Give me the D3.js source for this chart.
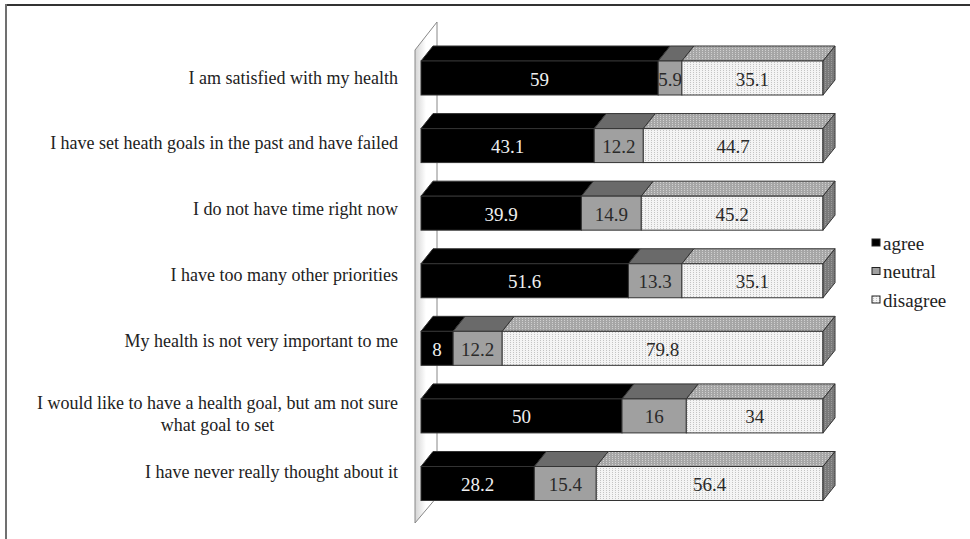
<!DOCTYPE html>
<html>
<head>
<meta charset="utf-8">
<script src="https://cdn.jsdelivr.net/npm/d3@7"></script>
<style>
  html, body { margin: 0; padding: 0; background: #fff; }
</style>
</head>
<body>
<script>
// survey answers, percent
var categories = [
  ["I am satisfied with my health"],
  ["I have set heath goals in the past and have failed"],
  ["I do not have time right now"],
  ["I have too many other priorities"],
  ["My health is not very important to me"],
  ["I would like to have a health goal, but am not sure", "what goal to set"],
  ["I have never really thought about it"]
];
var seriesNames = ["agree", "neutral", "disagree"];
var agree = [59, 43.1, 39.9, 51.6, 8, 50, 28.2];
var neutral = [5.9, 12.2, 14.9, 13.3, 12.2, 16, 15.4];
var disagree = [35.1, 44.7, 45.2, 35.1, 79.8, 34, 56.4];
var xTicks = [0, 100];

var width = 970, height = 539;
var dx = 12, dy = 15, barH = 34;
var serif = "'Liberation Serif', 'Times New Roman', 'DejaVu Serif', serif";

var rows = categories.map(function(c, i) {
  return { idx: i, label: c, agree: agree[i], neutral: neutral[i], disagree: disagree[i] };
});

var svg = d3.select("body").append("svg")
  .attr("width", width)
  .attr("height", height)
  .attr("font-family", serif)
  .style("font-family", serif);

// patterns for the dotted "disagree" faces
var defs = svg.append("defs");
function dots(id, bg, fg) {
  var p = defs.append("pattern")
    .attr("id", id)
    .attr("patternUnits", "userSpaceOnUse")
    .attr("width", 3).attr("height", 2);
  p.append("rect").attr("width", 3).attr("height", 2).attr("fill", bg);
  p.append("rect").attr("width", 1).attr("height", 1).attr("fill", fg);
}
dots("dotFront", "#f4f4f4", "#c4c4c4");
dots("dotTop", "#a6a6a6", "#d0d0d0");
dots("dotSide", "#7a7a7a", "#9a9a9a");

var wallGrad = defs.append("linearGradient").attr("id", "wallGrad")
  .attr("x1", "0").attr("x2", "1").attr("y1", "0").attr("y2", "0");
wallGrad.append("stop").attr("offset", "0").attr("stop-color", "#d4d4d4");
wallGrad.append("stop").attr("offset", "0.5").attr("stop-color", "#ffffff");

var frontFill = { agree: "#000", neutral: "#a0a0a0", disagree: "url(#dotFront)" };
var topFill = { agree: "#000", neutral: "#6a6a6a", disagree: "url(#dotTop)" };
var textFill = { agree: "#f0f0f0", neutral: "#2a2a2a", disagree: "#2a2a2a" };

// frame
svg.append("line").attr("x1", 5).attr("x2", width).attr("y1", 5).attr("y2", 5)
  .attr("stroke", "#333").attr("stroke-width", 2);
svg.append("line").attr("x1", 6).attr("x2", 6).attr("y1", 4).attr("y2", height)
  .attr("stroke", "#707070").attr("stroke-width", 2);

var x = d3.scaleLinear().domain(d3.extent(xTicks)).range([421, 823]);
var y = d3.scalePoint().domain(d3.range(categories.length)).range([78, 483.5]);
var yLabel = d3.scalePoint().domain(d3.range(categories.length)).range([77.5, 472]);

// back wall
var wx0 = 415, wx1 = 437;
svg.append("path")
  .attr("d", "M" + wx0 + ",50 L" + wx1 + ",22 L" + wx1 + ",497 L" + wx0 + ",523 Z")
  .attr("fill", "url(#wallGrad)")
  .attr("stroke", "#888")
  .attr("stroke-width", 1);

var stack = d3.stack().keys(seriesNames)(rows);

var g = svg.append("g");

rows.forEach(function(r, i) {
  var yt = y(i) - barH / 2;
  var yb = y(i) + barH / 2;
  var row = g.append("g");
  stack.forEach(function(layer) {
    var key = layer.key;
    var x0 = x(layer[i][0]), x1 = x(layer[i][1]);
    // top face
    row.append("path")
      .attr("d", "M" + x0 + "," + yt + " L" + x1 + "," + yt +
        " L" + (x1 + dx) + "," + (yt - dy) + " L" + (x0 + dx) + "," + (yt - dy) + " Z")
      .attr("fill", topFill[key])
      .attr("stroke", "#333").attr("stroke-width", 1);
    // front face
    row.append("rect")
      .attr("x", x0).attr("y", yt)
      .attr("width", x1 - x0).attr("height", barH)
      .attr("fill", frontFill[key])
      .attr("stroke", "#333").attr("stroke-width", 1);
    row.append("text")
      .attr("x", (x0 + x1) / 2)
      .attr("y", y(i) + 1)
      .attr("text-anchor", "middle")
      .attr("dominant-baseline", "central")
      .attr("font-size", 19)
      .attr("fill", textFill[key])
      .text(r[key]);
  });
  // right side of the bar
  var xe = x(100);
  row.append("path")
    .attr("d", "M" + xe + "," + yt + " L" + (xe + dx) + "," + (yt - dy) +
      " L" + (xe + dx) + "," + (yb - dy) + " L" + xe + "," + yb + " Z")
    .attr("fill", "url(#dotSide)")
    .attr("stroke", "#333").attr("stroke-width", 1);
});

// category labels, a second line is centred under the first
categories.forEach(function(lines, i) {
  var first = svg.append("text")
    .attr("x", 398)
    .attr("y", yLabel(i) - (lines.length > 1 ? 3 : 0))
    .attr("text-anchor", "end")
    .attr("dominant-baseline", "central")
    .attr("font-size", 18)
    .attr("fill", "#222")
    .text(lines[0]);
  if (lines.length > 1) {
    var w = first.node().getComputedTextLength();
    svg.append("text")
      .attr("x", 398 - w / 2)
      .attr("y", yLabel(i) + 19)
      .attr("text-anchor", "middle")
      .attr("dominant-baseline", "central")
      .attr("font-size", 18)
      .attr("fill", "#222")
      .text(lines[1]);
  }
});

// legend
var legend = svg.append("g");
seriesNames.forEach(function(s, i) {
  var ly = 243 + i * 28.5;
  legend.append("rect")
    .attr("x", 872).attr("y", ly - 4)
    .attr("width", 8).attr("height", 7)
    .attr("fill", frontFill[s])
    .attr("stroke", "#222").attr("stroke-width", 1);
  legend.append("text")
    .attr("x", 883).attr("y", ly)
    .attr("dominant-baseline", "central")
    .attr("font-size", 19)
    .attr("fill", "#222")
    .text(s);
});
</script>
</body>
</html>
